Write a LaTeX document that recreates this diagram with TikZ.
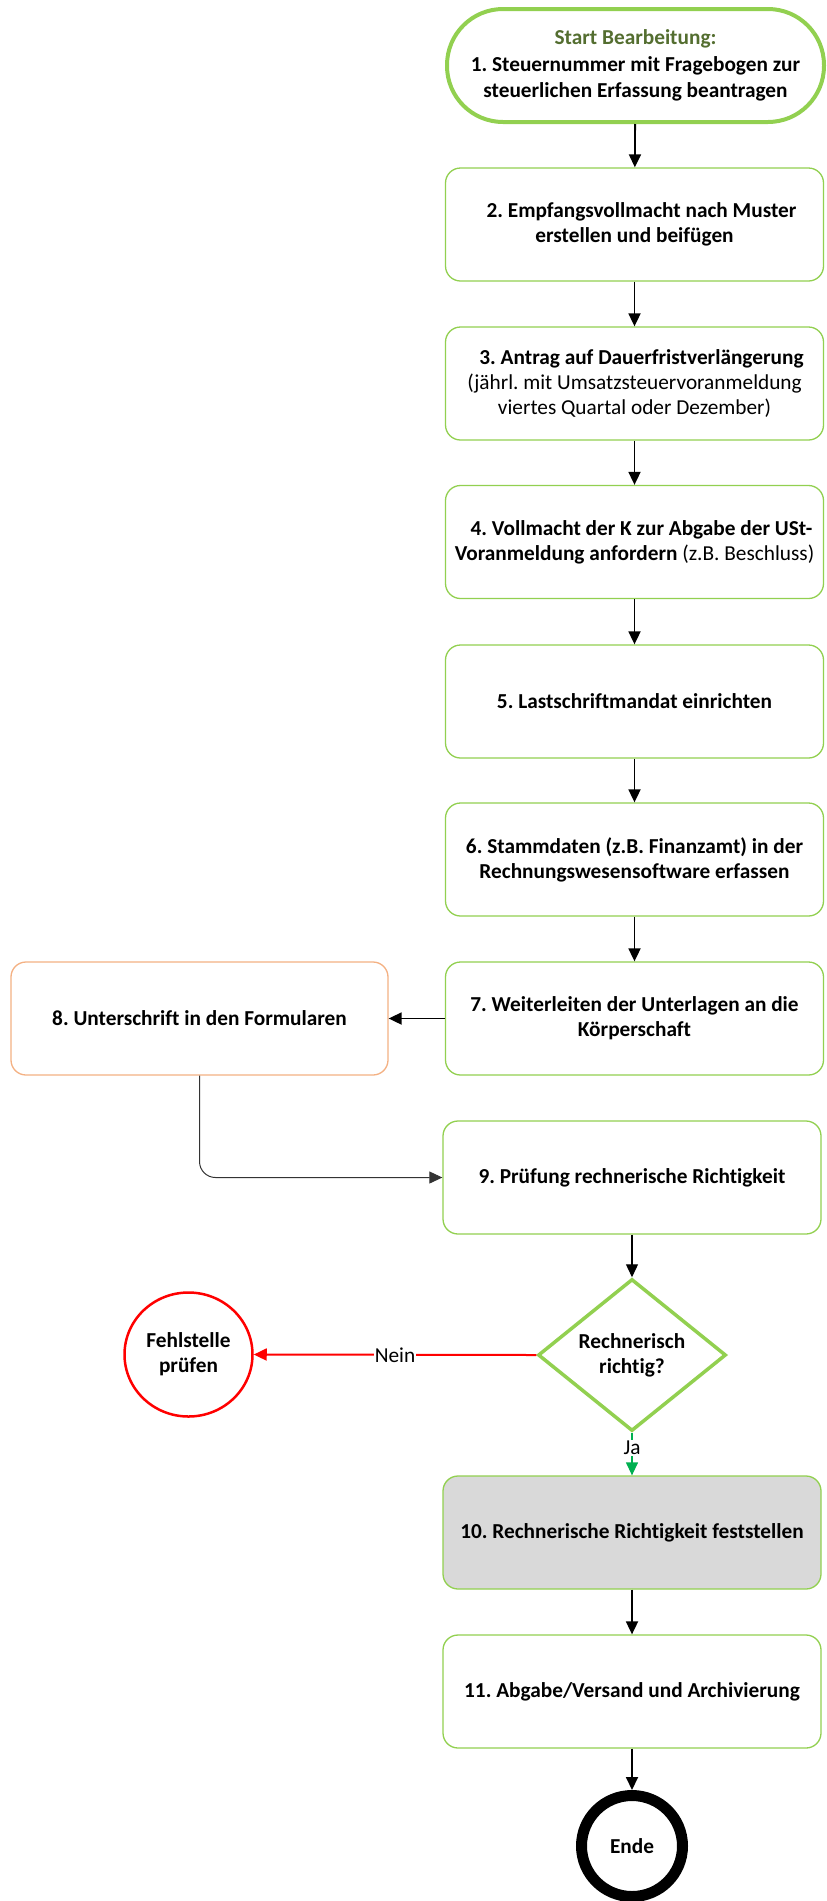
\documentclass[tikz,border=0pt]{standalone}
\usepackage{fontspec}
\setmainfont{Carlito}[Ligatures=NoCommon]
\frenchspacing
\usetikzlibrary{arrows.meta,shapes.geometric}

\definecolor{boxgreen}{RGB}{146,208,80}
\definecolor{titlegreen}{RGB}{84,110,48}
\definecolor{boxorange}{RGB}{244,177,131}
\definecolor{jagreen}{RGB}{0,176,80}
\definecolor{grayfill}{RGB}{217,217,217}

\tikzset{
  txt/.style={font=\fontsize{21.3}{25}\selectfont},
  stepbox/.style={txt, draw=boxgreen, line width=1.3pt, rounded corners=15pt,
    minimum width=378pt, minimum height=113pt, inner sep=0pt, align=center},
  startbox/.style={stepbox, line width=4pt, rounded corners=56pt,
    minimum width=377pt, font=\fontsize{21.3}{26.5}\selectfont},
  signbox/.style={stepbox, draw=boxorange, minimum width=377pt},
  decision/.style={txt, diamond, draw=boxgreen, line width=3.5pt, inner sep=0pt,
    minimum width=188pt, minimum height=152pt, align=center, aspect=1.24},
  faultnode/.style={txt, ellipse, draw=red, line width=2.5pt, inner sep=0pt,
    minimum width=128pt, minimum height=124pt, align=center},
  endnode/.style={txt, circle, draw=black, line width=11pt, inner sep=0pt,
    minimum size=101pt},
  flow/.style={line width=1.8pt, -{Triangle[length=13pt,width=12pt]}},
  lbl/.style={txt, fill=white, text=black, inner sep=1pt}
}

\begin{document}
\begin{tikzpicture}[x=1pt,y=-1pt]
\useasboundingbox[fill=white] (0,0) rectangle (827,1901);

% main column of process steps
\node[startbox] (s1) at (635.5,65.5)
  {{\color{titlegreen}\bfseries Start Bearbeitung:}\\
   \bfseries 1. Steuernummer mit Fragebogen zur\\
   \bfseries steuerlichen Erfassung beantragen};
\node[stepbox] (s2) at (634.5,224.5)
  {\bfseries\hspace*{14pt}2. Empfangsvollmacht nach Muster\\
   \bfseries erstellen und beifügen};
\node[stepbox] (s3) at (634.5,383.5)
  {\bfseries\hspace*{14pt}3. Antrag auf Dauerfristverlängerung\\
   (jährl. mit Umsatzsteuervoranmeldung\\
   viertes Quartal oder Dezember)};
\node[stepbox] (s4) at (634.5,542)
  {\bfseries\hspace*{14pt}4. Vollmacht der K zur Abgabe der USt-\\
   \textbf{Voranmeldung anfordern} (z.B. Beschluss)};
\node[stepbox] (s5) at (634.5,701.5)
  {\bfseries 5. Lastschriftmandat einrichten};
\node[stepbox] (s6) at (634.5,859.5)
  {\bfseries 6. Stammdaten (z.B. Finanzamt) in der\\
   \bfseries Rechnungswesensoftware erfassen};
\node[stepbox] (s7) at (634.5,1018.5)
  {\bfseries 7. Weiterleiten der Unterlagen an die\\
   \bfseries Körperschaft};
\node[signbox] (s8) at (199.5,1018.5)
  {\bfseries 8. Unterschrift in den Formularen};
\node[stepbox] (s9) at (632,1177.5)
  {\bfseries 9. Prüfung rechnerische Richtigkeit};
\node[decision] (chk) at (632,1355)
  {\bfseries Rechnerisch\\ \bfseries richtig?};
\node[faultnode] (fault) at (188.5,1354.5)
  {\bfseries Fehlstelle\\ \bfseries prüfen};
\node[stepbox, fill=grayfill] (s10) at (632,1532.5)
  {\bfseries 10. Rechnerische Richtigkeit feststellen};
\node[stepbox] (s11) at (632,1691.5)
  {\bfseries 11. Abgabe/Versand und Archivierung};
\node[endnode] (end) at (632,1846) {\bfseries Ende};

% connectors
\draw[flow] (s1) -- (s2);
\draw[flow] (s2) -- (s3);
\draw[flow] (s3) -- (s4);
\draw[flow] (s4) -- (s5);
\draw[flow] (s5) -- (s6);
\draw[flow] (s6) -- (s7);
\draw[flow] (s7) -- (s8);
\draw[flow, line width=1pt, draw=black!80, rounded corners=16pt]
  (s8.south) |- (s9.west);
\draw[flow, line width=1.3pt] (s9) -- (chk);
\draw[flow, red, line width=2pt] (chk.west) -- node[lbl]{Nein} (fault.east);
\draw[flow, jagreen, line width=1.3pt] (chk.south) -- node[lbl, pos=0.35]{Ja} (s10.north);
\draw[flow] (s10) -- (s11);
\draw[flow] (s11) -- (end);
\end{tikzpicture}
\end{document}
